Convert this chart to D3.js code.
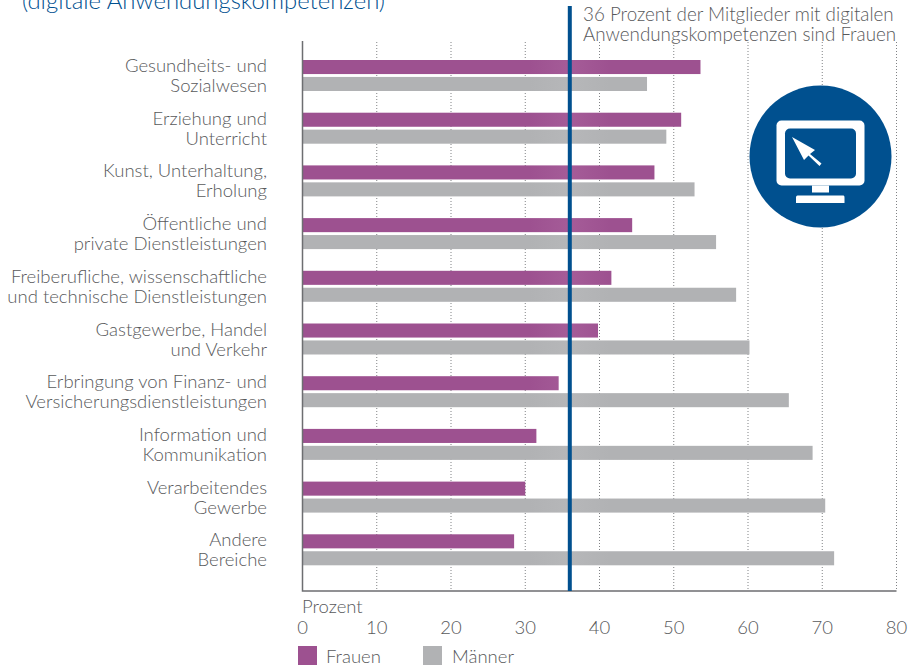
<!DOCTYPE html>
<html>
<head>
<meta charset="utf-8">
<script src="https://cdn.jsdelivr.net/npm/d3@7"></script>
<style>
  html, body { margin: 0; padding: 0; background: #fff; }
  svg { display: block; }
  text { font-family: Lato, "Open Sans", sans-serif; font-weight: 300; fill: #58595b; }
</style>
</head>
<body>
<div id="chart"></div>
<script>
// category labels, one entry per line of the label
var categories = [
  ["Gesundheits- und", "Sozialwesen"],
  ["Erziehung und", "Unterricht"],
  ["Kunst, Unterhaltung,", "Erholung"],
  ["Öffentliche und", "private Dienstleistungen"],
  ["Freiberufliche, wissenschaftliche", "und technische Dienstleistungen"],
  ["Gastgewerbe, Handel", "und Verkehr"],
  ["Erbringung von Finanz- und", "Versicherungsdienstleistungen"],
  ["Information und", "Kommunikation"],
  ["Verarbeitendes", "Gewerbe"],
  ["Andere", "Bereiche"]
];
var frauen = [53.6, 51.0, 47.4, 44.4, 41.6, 39.8, 34.5, 31.5, 30.0, 28.5];
var maenner = [46.4, 49.0, 52.8, 55.7, 58.4, 60.2, 65.5, 68.7, 70.4, 71.6];
var seriesNames = ["Frauen", "Männer"];
var seriesColors = ["#9d5190", "#b1b2b4"];
var seriesGlow = ["#a55c98", "#b6b7b9"];
var xTicks = [0, 10, 20, 30, 40, 50, 60, 70, 80];
var refValue = 36;

var svg = d3.select('#chart').append('svg').attr('width', 922).attr('height', 670);

var x = d3.scaleLinear().domain([0, 80]).range([302.5, 896.5]);
var y = d3.scaleBand().domain(d3.range(categories.length)).range([60, 587]).paddingInner(0).paddingOuter(0);
var ySub = d3.scaleBand().domain(seriesNames).range([0, 31]).paddingInner(0.17);
var color = d3.scaleOrdinal().domain(seriesNames).range(seriesColors);

// the bars get a little lighter around the reference line
var defs = svg.append('defs');
seriesNames.forEach(function(name, i){
  var grad = defs.append('linearGradient')
    .attr('id', 'bar' + i)
    .attr('gradientUnits', 'userSpaceOnUse')
    .attr('x1', x(refValue) - 40).attr('x2', x(refValue) + 40)
    .attr('y1', 0).attr('y2', 0);
  grad.append('stop').attr('offset', '0').attr('stop-color', seriesColors[i]);
  grad.append('stop').attr('offset', '0.5').attr('stop-color', seriesGlow[i]);
  grad.append('stop').attr('offset', '1').attr('stop-color', seriesColors[i]);
});

// title is cut off by the top edge in the original
svg.append('text').attr('x', 22).attr('y', 9)
  .style('font-size', '23.9px').style('fill', '#00508f')
  .text('(digitale Anwendungskompetenzen)');

// dotted grid
svg.append('g').selectAll('line')
  .data(xTicks.slice(1))
  .enter().append('line')
  .attr('x1', function(d){ return x(d); })
  .attr('x2', function(d){ return x(d); })
  .attr('y1', 42).attr('y2', 591)
  .attr('stroke', '#808285').attr('stroke-width', 1).attr('stroke-dasharray', '1 2');

// bars
var rows = svg.append('g').selectAll('g')
  .data(categories)
  .enter().append('g')
  .attr('transform', function(d, i){ return 'translate(0,' + y(i) + ')'; });

rows.selectAll('rect')
  .data(function(d, i){ return [{s: 0, v: frauen[i]}, {s: 1, v: maenner[i]}]; })
  .enter().append('rect')
  .attr('x', x(0))
  .attr('y', function(d){ return ySub(seriesNames[d.s]); })
  .attr('width', function(d){ return x(d.v) - x(0); })
  .attr('height', ySub.bandwidth())
  .style('fill', function(d){ return 'url(#bar' + d.s + ')'; });

// category labels
rows.append('text')
  .attr('text-anchor', 'end')
  .style('font-size', '18.5px')
  .selectAll('tspan')
  .data(function(d){ return d; })
  .enter().append('tspan')
  .attr('x', 267)
  .attr('y', function(d, i){ return 12 + i * 20; })
  .text(function(d){ return d; });

// axis lines
svg.append('path')
  .attr('d', 'M' + x(0) + ',41V591H' + x(80))
  .attr('fill', 'none').attr('stroke', '#6d6e71').attr('stroke-width', 1.5);

// tick labels
svg.append('g').selectAll('text')
  .data(xTicks)
  .enter().append('text')
  .attr('x', function(d){ return x(d); })
  .attr('y', 634)
  .attr('text-anchor', 'middle')
  .style('font-size', '18.5px')
  .text(function(d){ return d; });

svg.append('text').attr('x', 302).attr('y', 613).style('font-size', '18.5px').text('Prozent');

// 36 percent reference line
svg.append('line')
  .attr('x1', x(refValue)).attr('x2', x(refValue))
  .attr('y1', 6).attr('y2', 591)
  .attr('stroke', '#00508f').attr('stroke-width', 4);

var note = svg.append('text').style('font-size', '18.8px');
note.append('tspan').attr('x', 583).attr('y', 21).text('36 Prozent der Mitglieder mit digitalen');
note.append('tspan').attr('x', 583).attr('y', 41).text('Anwendungskompetenzen sind Frauen');

// legend
var legend = svg.append('g').selectAll('g')
  .data(seriesNames)
  .enter().append('g')
  .attr('transform', function(d, i){ return 'translate(' + (298 + i * 125) + ',646)'; });

legend.append('rect')
  .attr('width', 19).attr('height', 19)
  .style('fill', function(d){ return color(d); });

legend.append('text')
  .attr('x', function(d, i){ return 28 + i; })
  .attr('y', 17)
  .style('font-size', '18.5px')
  .text(function(d){ return d; });

// monitor icon
var icon = svg.append('g').attr('transform', 'translate(820.5,156.5)');
icon.append('circle').attr('r', 71).style('fill', '#00508f');
icon.append('rect').attr('x', -44).attr('y', -36).attr('width', 88).attr('height', 65).attr('rx', 5).style('fill', '#fff');
icon.append('rect').attr('x', -35.5).attr('y', -28).attr('width', 71).attr('height', 50).attr('rx', 5).style('fill', '#00508f');
icon.append('rect').attr('x', -8.5).attr('y', 29).attr('width', 17).attr('height', 7).style('fill', '#fff');
icon.append('path').attr('d', 'M-24,39H23Q24,39 24,41V46.5H-24.5V41Q-24.5,39 -23,39Z').style('fill', '#fff');
icon.append('path').attr('d', 'M-28.5,-19.5L-5.5,-6.5L-10.5,-2.5L1,7L-1,9.5L-12,-1L-16.5,3.5Z').style('fill', '#fff');
</script>
</body>
</html>
